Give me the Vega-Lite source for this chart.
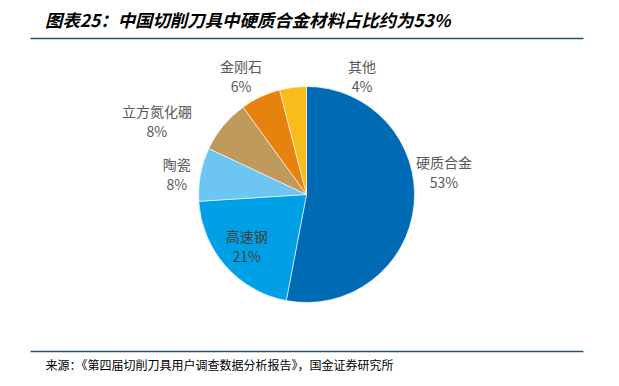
{
  "$schema": "https://vega.github.io/schema/vega-lite/v6.json",
  "width": 553,
  "height": 313,
  "autosize": {"type": "none"},
  "padding": {"left": 30, "top": 38, "right": 36, "bottom": 35},
  "background": "#ffffff",
  "config": {"view": {"stroke": null}},
  "title": {
    "text": "图表25：中国切削刀具中硬质合金材料占比约为53%",
    "anchor": "start",
    "dx": 15,
    "offset": 8,
    "font": "Noto Sans CJK SC",
    "fontSize": 17.4,
    "fontWeight": "bold",
    "fontStyle": "italic",
    "color": "#000000"
  },
  "data": {
    "values": [
      {"材料": "硬质合金", "占比": 53, "序": 1},
      {"材料": "高速钢", "占比": 21, "序": 2},
      {"材料": "陶瓷", "占比": 8, "序": 3},
      {"材料": "立方氮化硼", "占比": 8, "序": 4},
      {"材料": "金刚石", "占比": 6, "序": 5},
      {"材料": "其他", "占比": 4, "序": 6}
    ]
  },
  "layer": [
    {
      "mark": {"type": "rule", "opacity": 0},
      "encoding": {
        "x": {"field": "占比", "type": "quantitative",
          "axis": {"orient": "top", "domainColor": "#1F5673", "domainWidth": 1.5, "ticks": false, "labels": false, "grid": false, "title": null}}
      }
    },
    {
      "mark": {"type": "rule", "opacity": 0},
      "encoding": {
        "x": {"field": "占比", "type": "quantitative",
          "axis": {"orient": "bottom", "domainColor": "#1F5673", "domainWidth": 1.5, "ticks": false, "labels": false, "grid": false,
            "title": "来源：《第四届切削刀具用户调查数据分析报告》，国金证券研究所",
            "titleFont": "Noto Sans CJK SC", "titleFontSize": 12, "titleFontWeight": "normal", "titleColor": "#000000",
            "titleAnchor": "start", "titleAlign": "left", "titleBaseline": "top", "titleX": 15, "titleY": 9}}
      }
    },
    {
      "mark": {"type": "arc", "radius": 108, "stroke": "#ffffff", "strokeWidth": 0.6},
      "encoding": {
        "theta": {"field": "占比", "type": "quantitative", "stack": true},
        "order": {"field": "序", "type": "quantitative"},
        "color": {"field": "材料", "type": "nominal", "legend": null,
          "scale": {"domain": ["硬质合金", "高速钢", "陶瓷", "立方氮化硼", "金刚石", "其他"],
            "range": ["#006AB4", "#00A0E6", "#6DC6F2", "#C09A5C", "#E8820E", "#F8BD1A"]}}
      }
    },
    {
      "transform": [
        {"stack": "占比", "groupby": [], "sort": [{"field": "序"}], "as": ["a0", "a1"]},
        {"calculate": "(datum.a0 + datum.a1) / 2", "as": "mid"},
        {"calculate": "datum['材料'] + '\\n' + datum['占比'] + '%'", "as": "lbl"},
        {"filter": {"field": "材料", "equal": "陶瓷"}}
      ],
      "mark": {"type": "text", "radius": 132, "dy": -4, "lineBreak": "\n", "lineHeight": 20, "font": "Noto Sans CJK SC", "fontSize": 14, "color": "#595959", "baseline": "middle"},
      "encoding": {
        "theta": {"field": "mid", "type": "quantitative", "scale": {"domain": [0, 100]}},
        "text": {"field": "lbl"}
      }
    },
    {
      "transform": [
        {"stack": "占比", "groupby": [], "sort": [{"field": "序"}], "as": ["a0", "a1"]},
        {"calculate": "(datum.a0 + datum.a1) / 2", "as": "mid"},
        {"calculate": "datum['材料'] + '\\n' + datum['占比'] + '%'", "as": "lbl"},
        {"filter": {"field": "材料", "equal": "金刚石"}}
      ],
      "mark": {"type": "text", "radius": 142, "dx": -5, "dy": 2, "lineBreak": "\n", "lineHeight": 20, "font": "Noto Sans CJK SC", "fontSize": 14, "color": "#595959", "baseline": "middle"},
      "encoding": {
        "theta": {"field": "mid", "type": "quantitative", "scale": {"domain": [0, 100]}},
        "text": {"field": "lbl"}
      }
    },
    {
      "transform": [
        {"stack": "占比", "groupby": [], "sort": [{"field": "序"}], "as": ["a0", "a1"]},
        {"calculate": "(datum.a0 + datum.a1) / 2", "as": "mid"},
        {"calculate": "datum['材料'] + '\\n' + datum['占比'] + '%'", "as": "lbl"},
        {"filter": {"field": "材料", "equal": "高速钢"}}
      ],
      "mark": {"type": "text", "radius": 77, "dx": -2, "dy": -7, "lineBreak": "\n", "lineHeight": 20, "font": "Noto Sans CJK SC", "fontSize": 14, "color": "#404040", "baseline": "middle"},
      "encoding": {
        "theta": {"field": "mid", "type": "quantitative", "scale": {"domain": [0, 100]}},
        "text": {"field": "lbl"}
      }
    },
    {
      "transform": [
        {"stack": "占比", "groupby": [], "sort": [{"field": "序"}], "as": ["a0", "a1"]},
        {"calculate": "(datum.a0 + datum.a1) / 2", "as": "mid"},
        {"calculate": "datum['材料'] + '\\n' + datum['占比'] + '%'", "as": "lbl"},
        {"filter": {"field": "材料", "equal": "硬质合金"}}
      ],
      "mark": {"type": "text", "radius": 137, "dx": 1, "dy": -43, "lineBreak": "\n", "lineHeight": 20, "font": "Noto Sans CJK SC", "fontSize": 14, "color": "#595959", "baseline": "middle"},
      "encoding": {
        "theta": {"field": "mid", "type": "quantitative", "scale": {"domain": [0, 100]}},
        "text": {"field": "lbl"}
      }
    },
    {
      "transform": [
        {"stack": "占比", "groupby": [], "sort": [{"field": "序"}], "as": ["a0", "a1"]},
        {"calculate": "(datum.a0 + datum.a1) / 2", "as": "mid"},
        {"calculate": "datum['材料'] + '\\n' + datum['占比'] + '%'", "as": "lbl"},
        {"filter": {"field": "材料", "equal": "其他"}}
      ],
      "mark": {"type": "text", "radius": 127.5, "dx": 71.5, "dy": 0, "lineBreak": "\n", "lineHeight": 20, "font": "Noto Sans CJK SC", "fontSize": 14, "color": "#595959", "baseline": "middle"},
      "encoding": {
        "theta": {"field": "mid", "type": "quantitative", "scale": {"domain": [0, 100]}},
        "text": {"field": "lbl"}
      }
    },
    {
      "transform": [
        {"stack": "占比", "groupby": [], "sort": [{"field": "序"}], "as": ["a0", "a1"]},
        {"calculate": "(datum.a0 + datum.a1) / 2", "as": "mid"},
        {"calculate": "datum['材料'] + '\\n' + datum['占比'] + '%'", "as": "lbl"},
        {"filter": {"field": "材料", "equal": "立方氮化硼"}}
      ],
      "mark": {"type": "text", "radius": 150, "dx": -34, "dy": 14, "lineBreak": "\n", "lineHeight": 20, "font": "Noto Sans CJK SC", "fontSize": 14, "color": "#595959", "baseline": "middle"},
      "encoding": {
        "theta": {"field": "mid", "type": "quantitative", "scale": {"domain": [0, 100]}},
        "text": {"field": "lbl"}
      }
    }
  ],
  "resolve": {"scale": {"x": "independent"}, "axis": {"x": "independent"}}
}
